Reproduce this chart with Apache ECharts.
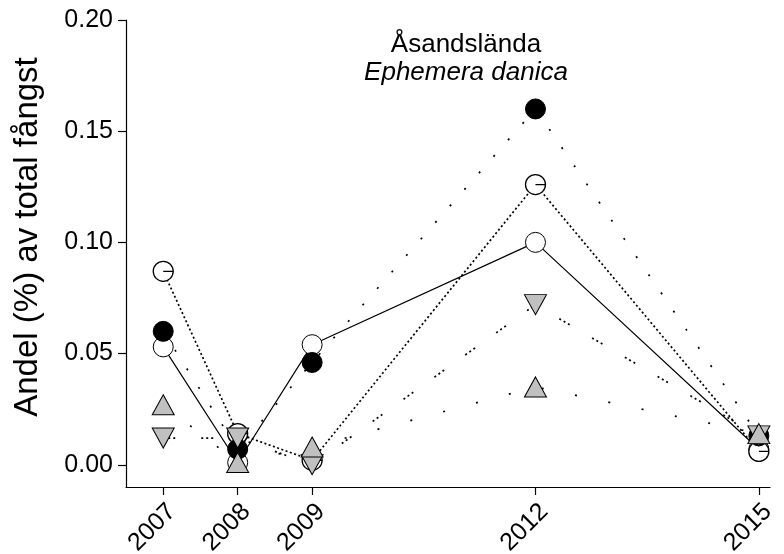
<!DOCTYPE html>
<html>
<head>
<meta charset="utf-8">
<script src="https://cdn.jsdelivr.net/npm/echarts@6/dist/echarts.min.js"></script>
<style>html,body{margin:0;padding:0;background:#fff}#c{width:784px;height:554px}</style>
</head>
<body>
<div id="c"></div>
<script>
// Data
const years = [2007, 2008, 2009, 2012, 2015];
const openCircle   = [0.053, 0.001, 0.054, 0.100, 0.007];
const tickCircle   = [0.087, 0.014, 0.002, 0.126, 0.006];
const filledCircle = [0.060, 0.007, 0.046, 0.160, 0.013];
const downTriangle = [0.012, 0.012, 0.000, 0.072, 0.013];
const upTriangle   = [0.027, 0.001, 0.008, 0.035, 0.014];
const yTicks = [0, 0.05, 0.10, 0.15, 0.20];
const titleLine1 = 'Åsandslända';
const titleLine2 = 'Ephemera danica';
const yName = 'Andel (%) av total fångst';

const FONT = 'Liberation Sans, Arial, sans-serif';
const gray = '#c0c0c0';
const pts = arr => years.map((y, i) => [y, arr[i]]);
const tickPath = 'path://M0,10A10,10,0,1,1,20,10A10,10,0,1,1,0,10ZM10,10L20,10';

const defs = [
  {vals: openCircle,   dash: 'solid',              w: 1.2, sym: 'circle', size: 20, fill: '#fff', rot: 0, bw: 1},
  {vals: tickCircle,   dash: [2, 2.5],             w: 1.7, sym: tickPath, size: 20, fill: '#fff', rot: 0, bw: 1.3},
  {vals: filledCircle, dash: [2, 20],              w: 1.7, sym: 'circle', size: 20, fill: '#000', rot: 0, bw: 1},
  {vals: downTriangle, dash: [2, 3, 2, 3, 2, 26],  w: 1.7, sym: 'triangle', size: [22, 20], fill: gray, rot: 180, bw: 1},
  {vals: upTriangle,   dash: [2, 32],              w: 1.7, sym: 'triangle', size: [22, 20], fill: gray, rot: 0, bw: 1}
];

const series = [];
defs.forEach(d => {
  series.push({
    type: 'line', data: pts(d.vals), showSymbol: false, symbol: 'none', z: 2,
    lineStyle: {color: '#000', width: d.w, type: d.dash}, silent: true, animation: false
  });
});
defs.forEach((d, k) => {
  series.push({
    type: 'scatter', data: pts(d.vals), symbol: d.sym, symbolSize: d.size, symbolRotate: d.rot,
    z: 3 + k,
    itemStyle: {color: d.fill, borderColor: '#000', borderWidth: d.bw, opacity: 1},
    animation: false
  });
});

const chart = echarts.init(document.getElementById('c'), null, {renderer: 'canvas'});
chart.setOption({
  backgroundColor: '#fff',
  animation: false,
  grid: {left: 126, right: 14, top: 20, bottom: 67, containLabel: false, outerBoundsMode: 'none'},
  xAxis: {
    type: 'value', min: 2006.5, max: 2015.15,
    axisLine: {show: true, onZero: false, lineStyle: {color: '#000', width: 1.2}},
    axisTick: {show: true, inside: false, length: 8, customValues: years, lineStyle: {color: '#000', width: 1.2}},
    axisLabel: {customValues: years, rotate: 45, margin: 12, verticalAlign: 'top', color: '#000', fontSize: 25, fontFamily: FONT,
      formatter: v => String(Math.round(v))},
    splitLine: {show: false}
  },
  yAxis: {
    type: 'value', min: -0.01, max: 0.2,
    axisLine: {show: true, onZero: false, lineStyle: {color: '#000', width: 1.2}},
    axisTick: {show: true, inside: false, length: 8, customValues: yTicks, lineStyle: {color: '#000', width: 1.2}},
    axisLabel: {customValues: yTicks, margin: 13, color: '#000', fontSize: 25, fontFamily: FONT,
      formatter: v => v.toFixed(2)},
    splitLine: {show: false}
  },
  graphic: [
    {type: 'text', x: 28, y: 237, rotation: Math.PI / 2,
      style: {text: yName, fontSize: 33, fontFamily: FONT, fill: '#000', align: 'center', verticalAlign: 'middle'}},
    {type: 'text', x: 466, y: 45,
      style: {text: titleLine1, fontSize: 26, fontFamily: FONT, fill: '#000', align: 'center', verticalAlign: 'middle'}},
    {type: 'text', x: 466, y: 73,
      style: {text: titleLine2, fontSize: 26, fontStyle: 'italic', fontFamily: FONT, fill: '#000', align: 'center', verticalAlign: 'middle'}}
  ],
  series: series
});
</script>
</body>
</html>
